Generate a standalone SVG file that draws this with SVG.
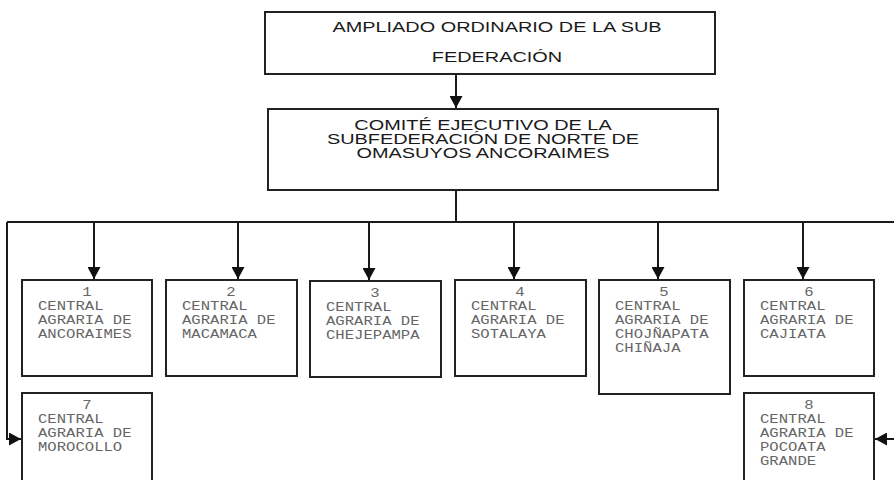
<svg xmlns="http://www.w3.org/2000/svg" width="894" height="480" viewBox="0 0 894 480">
<style>
.box{fill:#fff;stroke:#222;stroke-width:2}
.s{font-family:"Liberation Sans",Arial,sans-serif;font-size:14px;fill:#1a1a1a}
.m{font-family:"Liberation Mono","Courier New",monospace;font-size:12px;fill:#666}
.c{fill:none;stroke:#1a1a1a;stroke-width:2}
</style>
<defs>
<marker id="ah" markerUnits="userSpaceOnUse" markerWidth="13" markerHeight="13" refX="12" refY="6.5" orient="auto">
<path d="M0,0 L12,6.5 L0,13 Z" fill="#111"/>
</marker>
</defs>
<rect width="894" height="480" fill="#fff"/>
<g id="connectors">
<line class="c" x1="456" y1="74" x2="456" y2="108" marker-end="url(#ah)"/>
<line class="c" x1="456" y1="190" x2="456" y2="222"/>
<line class="c" x1="7" y1="222" x2="894" y2="222"/>
<line class="c" x1="94" y1="222" x2="94" y2="279" marker-end="url(#ah)"/>
<line class="c" x1="238" y1="222" x2="238" y2="279" marker-end="url(#ah)"/>
<line class="c" x1="369" y1="222" x2="369" y2="280" marker-end="url(#ah)"/>
<line class="c" x1="514" y1="222" x2="514" y2="279" marker-end="url(#ah)"/>
<line class="c" x1="658" y1="222" x2="658" y2="279" marker-end="url(#ah)"/>
<line class="c" x1="803" y1="222" x2="803" y2="279" marker-end="url(#ah)"/>
<path class="c" d="M7,222 V439 H21" marker-end="url(#ah)"/>
<path class="c" d="M894,439 H875" marker-end="url(#ah)"/>
</g>
<g id="n-ampliado">
<rect class="box" x="265" y="12" width="450" height="62"/>
<text class="s" text-anchor="middle" transform="translate(497,0) scale(1.42,1)"><tspan x="0" y="32">AMPLIADO ORDINARIO DE LA SUB</tspan><tspan x="0" y="62">FEDERACIÓN</tspan></text>
</g>
<g id="n-comite">
<rect class="box" x="268" y="109" width="450" height="81"/>
<text class="s" text-anchor="middle" transform="translate(483,0) scale(1.42,1)"><tspan x="0" y="130">COMITÉ EJECUTIVO DE LA</tspan><tspan x="0" y="144">SUBFEDERACIÓN DE NORTE DE</tspan><tspan x="0" y="158">OMASUYOS ANCORAIMES</tspan></text>
</g>
<g id="n1">
<rect class="box" x="22" y="280" width="130" height="96"/>
<text class="m" text-anchor="middle" transform="translate(87,0) scale(1.3,1)" x="0" y="296">1</text>
<text class="m" transform="translate(38,0) scale(1.3,1)"><tspan x="0" y="310">CENTRAL</tspan><tspan x="0" y="324">AGRARIA DE</tspan><tspan x="0" y="338">ANCORAIMES</tspan></text>
</g>
<g id="n2">
<rect class="box" x="166" y="280" width="131" height="96"/>
<text class="m" text-anchor="middle" transform="translate(231,0) scale(1.3,1)" x="0" y="296">2</text>
<text class="m" transform="translate(182,0) scale(1.3,1)"><tspan x="0" y="310">CENTRAL</tspan><tspan x="0" y="324">AGRARIA DE</tspan><tspan x="0" y="338">MACAMACA</tspan></text>
</g>
<g id="n3">
<rect class="box" x="310" y="281" width="131" height="96"/>
<text class="m" text-anchor="middle" transform="translate(375,0) scale(1.3,1)" x="0" y="297">3</text>
<text class="m" transform="translate(326,0) scale(1.3,1)"><tspan x="0" y="311">CENTRAL</tspan><tspan x="0" y="325">AGRARIA DE</tspan><tspan x="0" y="339">CHEJEPAMPA</tspan></text>
</g>
<g id="n4">
<rect class="box" x="455" y="280" width="131" height="96"/>
<text class="m" text-anchor="middle" transform="translate(520,0) scale(1.3,1)" x="0" y="296">4</text>
<text class="m" transform="translate(471,0) scale(1.3,1)"><tspan x="0" y="310">CENTRAL</tspan><tspan x="0" y="324">AGRARIA DE</tspan><tspan x="0" y="338">SOTALAYA</tspan></text>
</g>
<g id="n5">
<rect class="box" x="599" y="280" width="131" height="114"/>
<text class="m" text-anchor="middle" transform="translate(664,0) scale(1.3,1)" x="0" y="296">5</text>
<text class="m" transform="translate(615,0) scale(1.3,1)"><tspan x="0" y="310">CENTRAL</tspan><tspan x="0" y="324">AGRARIA DE</tspan><tspan x="0" y="338">CHOJÑAPATA</tspan><tspan x="0" y="352">CHIÑAJA</tspan></text>
</g>
<g id="n6">
<rect class="box" x="744" y="280" width="130" height="96"/>
<text class="m" text-anchor="middle" transform="translate(809,0) scale(1.3,1)" x="0" y="296">6</text>
<text class="m" transform="translate(760,0) scale(1.3,1)"><tspan x="0" y="310">CENTRAL</tspan><tspan x="0" y="324">AGRARIA DE</tspan><tspan x="0" y="338">CAJIATA</tspan></text>
</g>
<g id="n7">
<rect class="box" x="22" y="393" width="130" height="100"/>
<text class="m" text-anchor="middle" transform="translate(87,0) scale(1.3,1)" x="0" y="409">7</text>
<text class="m" transform="translate(38,0) scale(1.3,1)"><tspan x="0" y="423">CENTRAL</tspan><tspan x="0" y="437">AGRARIA DE</tspan><tspan x="0" y="451">MOROCOLLO</tspan></text>
</g>
<g id="n8">
<rect class="box" x="744" y="393" width="130" height="100"/>
<text class="m" text-anchor="middle" transform="translate(809,0) scale(1.3,1)" x="0" y="409">8</text>
<text class="m" transform="translate(760,0) scale(1.3,1)"><tspan x="0" y="423">CENTRAL</tspan><tspan x="0" y="437">AGRARIA DE</tspan><tspan x="0" y="451">POCOATA</tspan><tspan x="0" y="465">GRANDE</tspan></text>
</g>
</svg>
